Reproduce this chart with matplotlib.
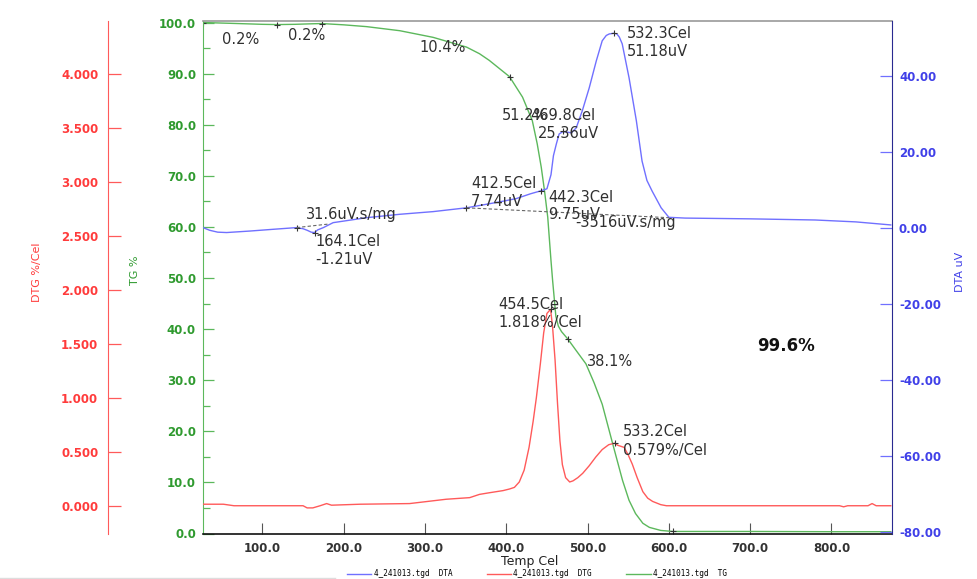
import matplotlib
matplotlib.use("Agg")
import matplotlib.pyplot as plt
from matplotlib.ticker import MultipleLocator, FormatStrFormatter
from matplotlib.lines import Line2D

# ---------------- data ----------------
tg_temp = [27, 60, 100, 118, 140, 160, 173, 200, 228, 269, 310, 351, 367, 379, 404, 420, 432,
           438, 443, 447, 451, 455, 457, 461, 464, 468, 475.5, 486, 498, 508, 518, 531, 543, 551,
           559, 568, 576, 590, 605, 700, 800, 873]
tg_val = [100.0, 99.85, 99.65, 99.6, 99.65, 99.75, 99.8, 99.55, 99.2, 98.4, 97.1, 95.2, 93.9,
          92.6, 89.4, 85.4, 80.8, 76.3, 71.7, 67.1, 61.9, 53.4, 49.5, 42.5, 40.6, 39.5, 38.1, 35.8,
          33.2, 29.5, 25.3, 17.5, 10.4, 6.5, 3.9, 2.0, 1.2, 0.6, 0.4, 0.4, 0.35, 0.35]

dta_temp = [27, 35, 45, 56, 85, 113, 142, 150, 155, 160, 164.1, 168, 175, 187, 228, 269, 310,
            351, 380, 400, 412.5, 430, 442.3, 450, 455, 458, 461.6, 465, 469.8, 475, 480, 486,
            493.5, 502, 510.7, 518, 523, 526.7, 532.3, 536, 539, 542.6, 551, 560, 567, 573, 579.4,
            590.5, 600, 620, 700, 780, 830, 873]
dta_val = [0.1, -0.6, -1.1, -1.2, -0.8, -0.35, 0.1, -0.2, -0.6, -1.1, -1.21, -0.5, 0.1, 1.4,
           2.7, 3.6, 4.3, 5.3, 6.4, 7.2, 7.74, 9.0, 9.75, 10.3, 14.0, 19.0, 22.1, 24.7, 25.36,
           25.2, 25.0, 26.3, 30.8, 36.8, 43.9, 49.2, 50.6, 51.0, 51.18, 51.0, 50.2, 48.4, 39.5,
           28.2, 17.6, 12.5, 9.7, 5.3, 2.8, 2.6, 2.4, 2.1, 1.6, 0.8]

dtg_temp = [27, 52, 65, 150, 155, 162, 171, 179, 185, 220, 281, 326, 355, 367, 379, 396, 404,
            410, 416, 422, 428, 433, 437, 442, 446, 450, 454.5, 457, 460, 463, 466, 469, 473,
            478, 482, 488, 494, 502, 510, 518, 526, 533.2, 537, 545, 550, 555, 561, 568, 574,
            580, 590, 597, 700, 810, 815, 820, 845, 850, 855, 873]
dtg_val = [0.014, 0.014, 0.0, 0.0, -0.02, -0.02, 0.0, 0.02, 0.005, 0.014, 0.02, 0.06, 0.075,
           0.105, 0.12, 0.14, 0.155, 0.17, 0.22, 0.33, 0.54, 0.78, 1.0, 1.32, 1.6, 1.78, 1.818,
           1.65, 1.35, 0.95, 0.6, 0.38, 0.26, 0.22, 0.23, 0.26, 0.30, 0.37, 0.45, 0.52, 0.565,
           0.579, 0.56, 0.54, 0.47, 0.385, 0.26, 0.13, 0.07, 0.04, 0.01, 0.0, 0.0, 0.0, -0.01,
           0.0, 0.0, 0.02, 0.0, 0.0]

# marked points
tg_mark_temp = [27, 118, 173, 404, 475.5, 605]
tg_mark_val = [100.0, 99.6, 99.8, 89.4, 38.1, 0.4]
dta_mark_temp = [142, 164.1, 351, 442.3, 469.8, 532.3]
dta_mark_val = [0.1, -1.21, 5.3, 9.75, 25.36, 51.18]
dtg_mark_temp = [454.5, 533.2]
dtg_mark_val = [1.818, 0.579]

# integration baselines
base1_temp = [142, 180]
base1_val = [0.1, 1.0]
base2_temp = [351, 600]
base2_val = [5.3, 2.7]

# annotation texts
tg_step_labels = ["0.2%", "0.2%", "10.4%", "51.2%", "38.1%"]
total_loss = "99.6%"
area_labels = ["31.6uV.s/mg", "-3516uV.s/mg"]

x_ticks = [100, 200, 300, 400, 500, 600, 700, 800]

# ---------------- figure ----------------
W, H = 977, 579
fig = plt.figure(figsize=(W / 100, H / 100), dpi=100)

def fx(x):
    return x / W

def fy(y):
    return 1 - y / H

L, R, T, B = 203, 892, 21, 533.5
ax = fig.add_axes([fx(L), fy(B), fx(R) - fx(L), fy(T) - fy(B)])
ax_dta = ax.twinx()
ax_dtg = ax.twinx()

c_green_line = "#5cb85c"
c_green_txt = "#2f9a2f"
c_red_line = "#ff5a5a"
c_red_txt = "#ff3b3b"
c_blue_line = "#7070ff"
c_blue_txt = "#4040e8"
c_txt = "#303030"

# curves
l_tg, = ax.plot(tg_temp, tg_val, color=c_green_line, lw=1.0)
l_dta, = ax_dta.plot(dta_temp, dta_val, color=c_blue_line, lw=1.0)
l_dtg, = ax_dtg.plot(dtg_temp, dtg_val, color=c_red_line, lw=1.0)

ax.plot(tg_mark_temp, tg_mark_val, "+", color="#333333", ms=5, mew=0.8)
ax_dta.plot(dta_mark_temp, dta_mark_val, "+", color="#333333", ms=5, mew=0.8)
ax_dtg.plot(dtg_mark_temp, dtg_mark_val, "+", color="#333333", ms=5, mew=0.8)
ax_dta.plot(base1_temp, base1_val, ls=(0, (3, 2)), color="#666666", lw=0.8)
ax_dta.plot(base2_temp, base2_val, ls=(0, (3, 2)), color="#666666", lw=0.8)

# limits
ax.set_xlim(26.9, 874.5)
ax.set_ylim(0, 100.3)
ax_dta.set_ylim(-80.3, 54.4)
ax_dtg.set_ylim(-0.257, 4.487)

# x axis
ax.set_xticks(x_ticks)
ax.xaxis.set_major_formatter(FormatStrFormatter("%.1f"))
ax.tick_params(axis="x", direction="in", length=8, width=0.8, color="#555555",
               labelcolor="#333333", labelsize=8.5, pad=6)
for t in ax.get_xticklabels():
    t.set_fontweight("bold")

# TG axis (left)
ax.yaxis.set_major_locator(MultipleLocator(10))
ax.yaxis.set_minor_locator(MultipleLocator(5))
ax.yaxis.set_major_formatter(FormatStrFormatter("%.1f"))
ax.tick_params(axis="y", which="major", direction="in", length=8, width=0.9,
               color=c_green_line, labelcolor=c_green_txt, labelsize=8.5, pad=5)
ax.tick_params(axis="y", which="minor", direction="in", length=5, width=0.9, color=c_green_line)
for t in ax.get_yticklabels():
    t.set_fontweight("bold")

# DTA axis (right)
ax_dta.yaxis.set_major_locator(MultipleLocator(20))
ax_dta.yaxis.set_major_formatter(FormatStrFormatter("%.2f"))
ax_dta.tick_params(axis="y", direction="in", length=9, width=0.9, color=c_blue_line,
                   labelcolor=c_blue_txt, labelsize=8.5, pad=5)
for t in ax_dta.get_yticklabels():
    t.set_fontweight("bold")

# DTG axis (outer left)
ax_dtg.spines["left"].set_position(("axes", (108 - L) / (R - L)))
ax_dtg.yaxis.set_ticks_position("left")
ax_dtg.yaxis.set_major_locator(MultipleLocator(0.5))
ax_dtg.yaxis.set_major_formatter(FormatStrFormatter("%.3f"))
ax_dtg.tick_params(axis="y", direction="in", length=9, width=0.9, color=c_red_line,
                   labelcolor=c_red_txt, labelsize=8.5, pad=7)
for t in ax_dtg.get_yticklabels():
    t.set_fontweight("bold")

# spines
for a in (ax, ax_dta, ax_dtg):
    for s in a.spines.values():
        s.set_visible(False)
ax.spines["left"].set_visible(True)
ax.spines["left"].set_color(c_green_line)
ax.spines["bottom"].set_visible(True)
ax.spines["bottom"].set_color("#111111")
ax.spines["bottom"].set_linewidth(1.2)
ax.spines["top"].set_visible(True)
ax.spines["top"].set_color("#999999")
ax.spines["top"].set_linewidth(1.2)
ax_dta.spines["right"].set_visible(True)
ax_dta.spines["right"].set_color("#2a2a90")
ax_dtg.spines["left"].set_visible(True)
ax_dtg.spines["left"].set_color(c_red_line)

# axis titles
fig.text(fx(37), fy(272), "DTG %/Cel", rotation=90, color=c_red_txt, fontsize=8,
         ha="center", va="center")
fig.text(fx(135), fy(270), "TG %", rotation=90, color=c_green_txt, fontsize=8,
         ha="center", va="center")
fig.text(fx(960), fy(272), "DTA uV", rotation=90, color=c_blue_txt, fontsize=8,
         ha="center", va="center")
fig.text(fx(530), fy(561), "Temp Cel", color="#222222", fontsize=9, ha="center", va="center")

# annotations
afs = 10.5
def note(x, y, s, **kw):
    fig.text(fx(x), fy(y), s, fontsize=kw.pop("fs", afs), color=kw.pop("color", c_txt),
             ha="left", va="center", **kw)

note(222, 39, tg_step_labels[0])
note(288, 36, tg_step_labels[1])
note(419, 48, tg_step_labels[2])
note(502, 116, tg_step_labels[3])
note(587, 362, tg_step_labels[4])
note(757, 346, total_loss, fs=12, fontweight="bold", color="#111111")

note(530, 116, f"{dta_mark_temp[4]:.1f}Cel")
note(538, 134, f"{dta_mark_val[4]:.2f}uV")
note(627, 34, f"{dta_mark_temp[5]:.1f}Cel")
note(627, 52, f"{dta_mark_val[5]:.2f}uV")
note(471, 183, f"{dta_temp[20]:.1f}Cel")
note(471, 201, f"{dta_val[20]:.2f}uV")
note(548, 197, f"{dta_mark_temp[3]:.1f}Cel")
note(548, 214, f"{dta_mark_val[3]:.2f}uV")
note(575, 222, area_labels[1])
note(306, 215, area_labels[0])
note(315, 241, f"{dta_mark_temp[1]:.1f}Cel")
note(315, 259, f"{dta_mark_val[1]:.2f}uV")

note(498, 304, f"{dtg_mark_temp[0]:.1f}Cel")
note(498, 323, f"{dtg_mark_val[0]:.3f}%/Cel")
note(623, 432, f"{dtg_mark_temp[1]:.1f}Cel")
note(623, 450, f"{dtg_mark_val[1]:.3f}%/Cel")

# legend
handles = [l_dta, l_dtg, l_tg]
labels = ["4_241013.tgd  DTA", "4_241013.tgd  DTG", "4_241013.tgd  TG"]
fig.legend(handles, labels, loc="center", bbox_to_anchor=(fx(537), fy(574)), ncol=3,
           frameon=False, handlelength=3.2, handletextpad=0.3, columnspacing=4.5,
           borderpad=0.1, prop={"family": "DejaVu Sans Mono", "size": 5.5})

# faint bottom separator
fig.add_artist(Line2D([0, fx(335)], [fy(577.5), fy(577.5)], color="#dddddd", lw=1.0))

fig.savefig("out.png", dpi=100)
